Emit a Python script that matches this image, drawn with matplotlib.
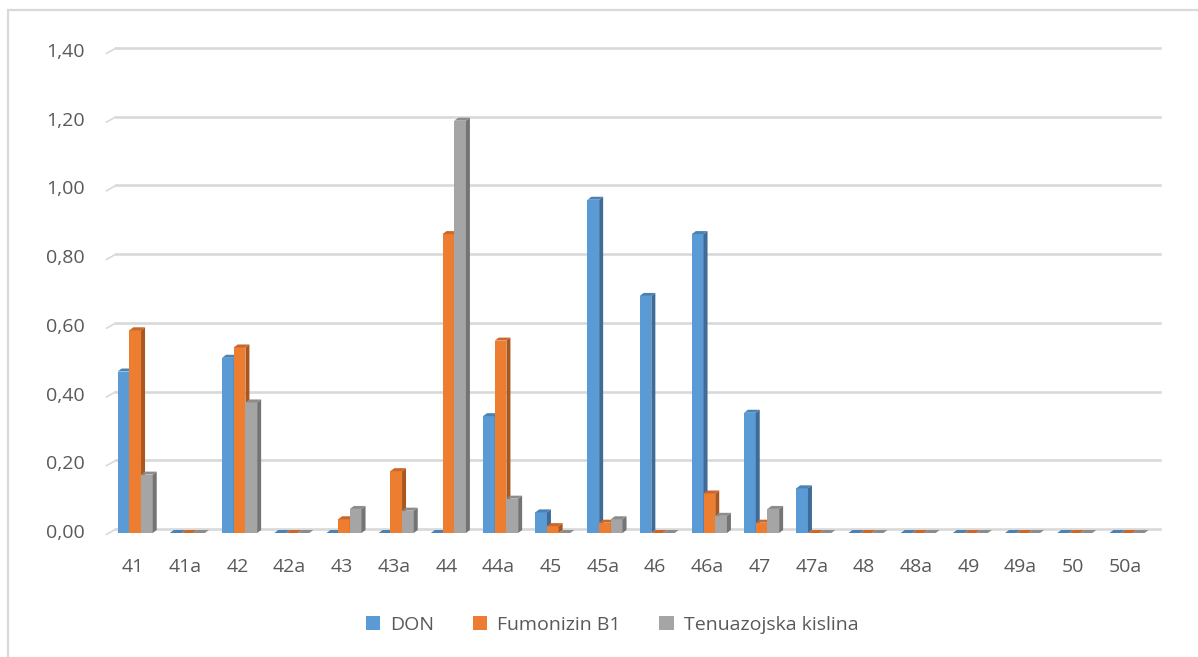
#!/usr/bin/env python3
"""Mycotoxin content per sample: clustered columns with an Excel-style 3D look."""

import matplotlib
matplotlib.use("Agg")
import matplotlib.pyplot as plt
from matplotlib.patches import Polygon, Patch, Rectangle
from matplotlib.transforms import offset_copy

samples = ["41", "41a", "42", "42a", "43", "43a", "44", "44a", "45", "45a",
           "46", "46a", "47", "47a", "48", "48a", "49", "49a", "50", "50a"]

don = [0.47, 0.00, 0.51, 0.00, 0.00, 0.00, 0.00, 0.34, 0.06, 0.97,
       0.69, 0.87, 0.35, 0.13, 0.00, 0.00, 0.00, 0.00, 0.00, 0.00]
fumonizin_b1 = [0.59, 0.00, 0.54, 0.00, 0.04, 0.18, 0.87, 0.56, 0.02, 0.03,
                0.00, 0.115, 0.03, 0.00, 0.00, 0.00, 0.00, 0.00, 0.00, 0.00]
tenuazojska = [0.17, 0.00, 0.38, 0.00, 0.07, 0.065, 1.20, 0.10, 0.00, 0.04,
               0.00, 0.05, 0.07, 0.00, 0.00, 0.00, 0.00, 0.00, 0.00, 0.00]

series_names = ["DON", "Fumonizin B1", "Tenuazojska kislina"]
yticks = [0.0, 0.2, 0.4, 0.6, 0.8, 1.0, 1.2, 1.4]

# front / side / top face colours per series
STYLE = [
    ("#5B9BD5", "#3E6C97", "#4A82B6"),
    ("#ED7D31", "#A9571F", "#C9682A"),
    ("#A5A5A5", "#747474", "#8C8C8C"),
]
TEXT = "#595959"
GRID = "#D9D9D9"

plt.rcParams["font.family"] = ["Open Sans", "DejaVu Sans"]

W, H = 1198, 657
fig = plt.figure(figsize=(W / 100, H / 100), dpi=100)
ax = fig.add_axes([107 / W, (H - 533) / H, 1044 / W, 481 / H])
ax.set_xlim(-0.5, len(samples) - 0.5)
ax.set_ylim(0, 1.4)
ax.axis("off")

# outer chart frame
fig.patches.append(Rectangle((8 / W, -0.05), 1.1, (H - 10) / H + 0.05,
                             transform=fig.transFigure, fill=False,
                             edgecolor=GRID, linewidth=1.6, zorder=0))

# gridlines sit on the back wall, shifted up/right by the depth
back = offset_copy(ax.transData, fig=fig, x=9, y=4, units="dots")
for v in yticks:
    ax.plot([-0.5, len(samples) - 0.5], [v, v], transform=back,
            color=GRID, linewidth=1.9, clip_on=False, zorder=1)
    # short slanted stub joining the wall to the front edge
    ax.plot([-0.5 - 0.01, -0.5 + 9 / 52.2], [v - 0.004, v + 4 / 343.6],
            color=GRID, linewidth=1.2, clip_on=False, zorder=1)
    ax.text(-0.5 - 22 / 52.2, v, f"{v:.2f}".replace(".", ","),
            ha="right", va="center", fontsize=14, color=TEXT)

bw = 0.224
dx = 4 / 52.2
dy = 3 / 343.6
shift = 0.04
for s, values in enumerate([don, fumonizin_b1, tenuazojska]):
    front, side, top = STYLE[s]
    xs = [i + shift + (s - 1) * bw for i in range(len(samples))]
    ax.bar(xs, values, width=bw, color=front, linewidth=0, zorder=3)
    for x, v in zip(xs, values):
        l, r = x - bw / 2, x + bw / 2
        ax.add_patch(Polygon([(r, 0), (r + dx, dy), (r + dx, v + dy), (r, v)],
                             closed=True, facecolor=side, edgecolor="none", zorder=3))
        ax.add_patch(Polygon([(l, v), (l + dx, v + dy), (r + dx, v + dy), (r, v)],
                             closed=True, facecolor=top, edgecolor="none", zorder=3))

for i, name in enumerate(samples):
    ax.text(i, -34 / 343.6, name, ha="center", va="center",
            fontsize=14, color=TEXT)

handles = [Patch(facecolor=c[0], edgecolor="none") for c in STYLE]
leg = fig.legend(handles, series_names, loc="center", ncol=3,
                 bbox_to_anchor=(612 / W, (H - 625) / H), frameon=False,
                 fontsize=14, handlelength=0.75, handleheight=0.75,
                 handletextpad=0.5, columnspacing=2.0)
for t in leg.get_texts():
    t.set_color(TEXT)

fig.savefig("out.png", dpi=100, facecolor="white")
